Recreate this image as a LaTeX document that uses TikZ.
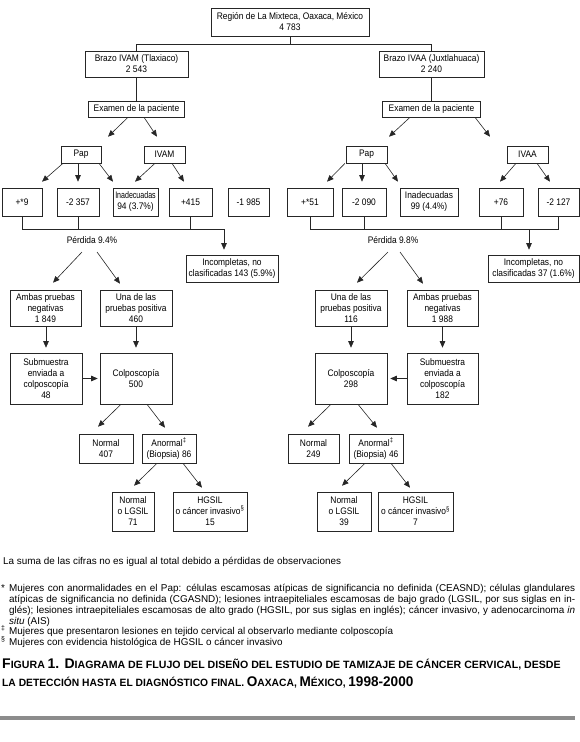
\documentclass[tikz,border=0pt]{standalone}
\usepackage{fontspec}
\usepackage{graphicx}
\setmainfont{Liberation Sans}
\newfontfamily\dfam{Liberation Sans}[FakeStretch=0.885]
\usetikzlibrary{arrows.meta,calc}
\newcommand\dsz{\dfam\fontsize{9.5}{11}\selectfont}
\newcommand\fsz{\fontsize{9.9}{11}\selectfont}
\newcommand\CB[1]{{\fontsize{14}{16}\selectfont #1}}
\newcommand\CS[1]{{\fontsize{10.6}{16}\selectfont #1}}
\begin{document}
\begin{tikzpicture}[x=1pt,y=-1pt,
  box/.style={draw=black!85, line width=0.6pt, fill=white, inner sep=0pt, align=center, font=\dsz},
  sz/.style 2 args={minimum width=#1pt, minimum height=#2pt},
  ln/.style={draw=black!85, line width=0.6pt},
  arr/.style={ln, -{Triangle[length=6.5pt,width=5.5pt]}},
  lbl/.style={inner sep=0pt, font=\dsz},
  fn/.style={inner sep=0pt, anchor=base west, font=\fsz},
  captext/.style={inner sep=0pt, anchor=base west, font=\bfseries},
]
\useasboundingbox (0,0) rectangle (580,742);

% ---------- top ----------
\node[box, sz={158}{28}] (top) at (290,22) {Región de La Mixteca, Oaxaca, México\\4 783};
\node[box, sz={103}{26}] (brazoL) at (136.5,64) {Brazo IVAM (Tlaxiaco)\\2 543};
\node[box, sz={105}{26}] (brazoR) at (431.5,64) {Brazo IVAA (Juxtlahuaca)\\2 240};
\coordinate (jn) at (0,44);
\draw[ln] (top.south) -- (top.south|-jn);
\draw[ln] (brazoL.north) -- (brazoL.north|-jn) -- (brazoR.north|-jn) -- (brazoR.north);

\node[box, sz={96}{16}] (examL) at (136.5,109) {Examen de la paciente};
\node[box, sz={98}{16}] (examR) at (431.5,109) {Examen de la paciente};
\draw[ln] (brazoL.south) -- (examL.north);
\draw[ln] (brazoR.south) -- (examR.north);

% ---------- tests ----------
\node[box, sz={40}{17}] (papL) at (81,154.5) {Pap};
\node[box, sz={41}{17}] (ivam) at (164.5,154.5) {IVAM};
\node[box, sz={41}{17}] (papR) at (366.5,154.5) {Pap};
\node[box, sz={41}{17}] (ivaa) at (527.5,154.5) {IVAA};

\draw[arr] ($(examL.south)+(-8.5,0)$) -- ($(papL.north)+(27,-9)$);
\draw[arr] ($(examL.south)+(7.5,0)$) -- ($(ivam.north)+(-7.5,-9)$);
\draw[arr] ($(examR.south)+(-21.5,0)$) -- ($(papR.north)+(22.5,-9)$);
\draw[arr] ($(examR.south)+(43.5,0)$) -- ($(ivaa.north)+(-37.5,-9)$);

% ---------- results ----------
\node[box, sz={40}{28}] (p9) at (22,202) {+*9};
\node[box, sz={42}{28}] (m2357) at (78,202) {-2 357};
\node[box, sz={45}{28}] (inadL) at (135.5,202) {\scalebox{0.84}[1]{Inadecuadas}\\94 (3.7\%)};
\node[box, sz={43}{28}] (p415) at (190.5,202) {+415};
\node[box, sz={41}{28}] (m1985) at (248.5,202) {-1 985};

\node[box, sz={46}{28}] (p51) at (310,202) {+*51};
\node[box, sz={44}{28}] (m2090) at (364,202) {-2 090};
\node[box, sz={58}{28}] (inadR) at (429,202) {Inadecuadas\\99 (4.4\%)};
\node[box, sz={44}{28}] (p76) at (501,202) {+76};
\node[box, sz={41}{28}] (m2127) at (558.5,202) {-2 127};

\draw[arr] ($(papL.south)+(-18,0)$) -- ($(p9.north)+(20,-6)$);
\draw[arr] ($(papL.south)+(-3,0)$) -- ($(m2357.north)+(0,-6)$);
\draw[arr] ($(papL.south)+(18,0)$) -- ($(inadL.north)+(-22.5,-6)$);
\draw[arr] ($(ivam.south)+(-9.5,0)$) -- ($(inadL.north)+(-0.5,-6)$);
\draw[arr] ($(ivam.south)+(7.5,0)$) -- ($(p415.north)+(-6.5,-6)$);

\draw[arr] ($(papR.south)+(-21.5,0)$) -- ($(p51.north)+(17,-6)$);
\draw[arr] ($(papR.south)+(-4.5,0)$) -- ($(m2090.north)+(-2,-6)$);
\draw[arr] ($(papR.south)+(18.5,0)$) -- ($(inadR.north)+(-31,-6)$);
\draw[arr] ($(ivaa.south)+(-11.5,0)$) -- ($(p76.north)+(-1,-6)$);
\draw[arr] ($(ivaa.south)+(9.5,0)$) -- ($(m2127.north)+(-8.5,-6)$);

% ---------- loss brackets ----------
\node[box, sz={92}{27}] (incL) at (232,268.5) {Incompletas, no\\clasificadas 143 (5.9\%)};
\node[box, sz={91}{27}] (incR) at (533.5,268.5) {Incompletas, no\\clasificadas 37 (1.6\%)};
\coordinate (bL) at (0,229);
\coordinate (bR) at (0,229);
\draw[ln] (p9.south) -- (p9.south|-bL) -- ($(incL.north|-bL)+(-8,0)$);
\draw[ln] (m2357.south) -- (m2357.south|-bL);
\draw[ln] (p415.south) -- (p415.south|-bL);
\draw[arr] ($(incL.north|-bL)+(-8,0)$) -- ($(incL.north)+(-8,-5)$);
\draw[ln] (p51.south) -- (p51.south|-bR) -- (m2127.south|-bR) -- (m2127.south);
\draw[ln] (m2090.south) -- (m2090.south|-bR);
\draw[ln] (p76.south) -- (p76.south|-bR);
\draw[arr] ($(incR.north|-bR)+(-4.5,0)$) -- ($(incR.north)+(-4.5,-5)$);

\node[lbl] (perdL) at (92,240) {Pérdida 9.4\%};
\node[lbl] (perdR) at (393,240) {Pérdida 9.8\%};

% ---------- outcomes ----------
\node[box, sz={71}{36}] (ambasL) at (45.5,308) {Ambas pruebas\\negativas\\1 849};
\node[box, sz={72}{36}] (unaL) at (136,308) {Una de las\\pruebas positiva\\460};
\node[box, sz={72}{36}] (unaR) at (351,308) {Una de las\\pruebas positiva\\116};
\node[box, sz={71}{36}] (ambasR) at (442.5,308) {Ambas pruebas\\negativas\\1 988};

\draw[arr] ($(perdL.center)+(-10,12)$) -- ($(ambasL.north)+(7.5,-7)$);
\draw[arr] ($(perdL.center)+(5,12)$) -- ($(unaL.north)+(-16,-6)$);
\draw[arr] ($(perdR.center)+(-5,12)$) -- ($(unaR.north)+(6,-7)$);
\draw[arr] ($(perdR.center)+(7,12)$) -- ($(ambasR.north)+(-19.5,-6)$);

\node[box, sz={72}{51}] (subL) at (46,378.5) {Submuestra\\enviada a\\colposcopía\\48};
\node[box, sz={72}{51}] (colpL) at (136,378.5) {Colposcopía\\500};
\node[box, sz={72}{51}] (colpR) at (351,378.5) {Colposcopía\\298};
\node[box, sz={71}{51}] (subR) at (442.5,378.5) {Submuestra\\enviada a\\colposcopía\\182};

\draw[arr] (subL.north|-ambasL.south) -- ($(subL.north)+(0,-5)$);
\draw[arr] (unaL.south) -- ($(colpL.north)+(0,-5)$);
\draw[arr] (unaR.south) -- ($(colpR.north)+(0,-5)$);
\draw[arr] (ambasR.south) -- ($(subR.north)+(0,-5)$);
\draw[arr] (subL.east) -- ($(colpL.west)+(-2,0)$);
\draw[arr] (subR.west) -- ($(colpR.east)+(3,0)$);

% ---------- colposcopy results ----------
\node[box, sz={54}{29}] (normL1) at (106,448.5) {Normal\\407};
\node[box, sz={54}{29}] (anormL) at (169,448.5) {Anormal\textsuperscript{‡}\\(Biopsia) 86};
\node[box, sz={51}{29}] (normR1) at (313.5,448.5) {Normal\\249};
\node[box, sz={54}{29}] (anormR) at (376,448.5) {Anormal\textsuperscript{‡}\\(Biopsia) 46};

\draw[arr] ($(colpL.south)+(-15,0)$) -- ($(normL1.north)+(-8,-7)$);
\draw[arr] ($(colpL.south)+(11,0)$) -- ($(anormL.north)+(-4,-6)$);
\draw[arr] ($(colpR.south)+(-20,0)$) -- ($(normR1.north)+(-5.5,-7)$);
\draw[arr] ($(colpR.south)+(7,0)$) -- ($(anormR.north)+(1,-6)$);

\node[box, sz={42}{39}] (normL2) at (133,511.5) {Normal\\o LGSIL\\71};
\node[box, sz={74}{39}] (hgsilL) at (210,511.5) {HGSIL\\o cáncer invasivo\textsuperscript{§}\\15};
\node[box, sz={54}{39}] (normR2) at (344,511.5) {Normal\\o LGSIL\\39};
\node[box, sz={75}{39}] (hgsilR) at (415.5,511.5) {HGSIL\\o cáncer invasivo\textsuperscript{§}\\7};

\draw[arr] ($(anormL.south)+(-12,0)$) -- ($(normL2.north)+(1,-6)$);
\draw[arr] ($(anormL.south)+(14,0)$) -- ($(hgsilL.north)+(-8,-4)$);
\draw[arr] ($(anormR.south)+(-11,0)$) -- ($(normR2.north)+(-2,-6)$);
\draw[arr] ($(anormR.south)+(15,0)$) -- ($(hgsilR.north)+(-5.5,-4)$);

% ---------- footnotes ----------
\node[fn] (f0) at (3,564.5) {La suma de las cifras no es igual al total debido a pérdidas de observaciones};
\node[fn] (f1m) at (1,591.5) {*};
\node[fn] (f1) at (9,591.5) {\makebox[566pt][s]{Mujeres con anormalidades en el Pap: células escamosas atípicas de significancia no definida (CEASND); células glandulares}};
\node[fn] (f2) at (9,602.5) {\makebox[566pt][s]{atípicas de significancia no definida (CGASND); lesiones intraepiteliales escamosas de bajo grado (LGSIL, por sus siglas en in-}};
\node[fn] (f3) at (9,613.5) {\makebox[566pt][s]{glés); lesiones intraepiteliales escamosas de alto grado (HGSIL, por sus siglas en inglés); cáncer invasivo, y adenocarcinoma \textit{in}}};
\node[fn] (f4) at (9,624) {\textit{situ} (AIS)};
\node[fn] (f5m) at (1,634.5) {\textsuperscript{‡}};
\node[fn] (f5) at (9,634.5) {Mujeres que presentaron lesiones en tejido cervical al observarlo mediante colposcopía};
\node[fn] (f6m) at (1,645.5) {\textsuperscript{§}};
\node[fn] (f6) at (9,645.5) {Mujeres con evidencia histológica de HGSIL o cáncer invasivo};

% ---------- caption ----------
\node[captext] (c1) at (2,668.5) {\CB{F}\CS{IGURA} \CB{1. D}\CS{IAGRAMA DE FLUJO DEL DISEÑO DEL ESTUDIO DE TAMIZAJE DE CÁNCER CERVICAL, DESDE}};
\node[captext] (c2) at (2,686) {\scalebox{0.97}[1]{\CS{LA DETECCIÓN HASTA EL DIAGNÓSTICO FINAL.} \CB{O}\CS{AXACA,} \CB{M}\CS{ÉXICO,} \CB{1998-2000}}};
\draw[line width=3.3pt, draw=black!45] (0,718) -- (575,718);
\end{tikzpicture}
\end{document}
